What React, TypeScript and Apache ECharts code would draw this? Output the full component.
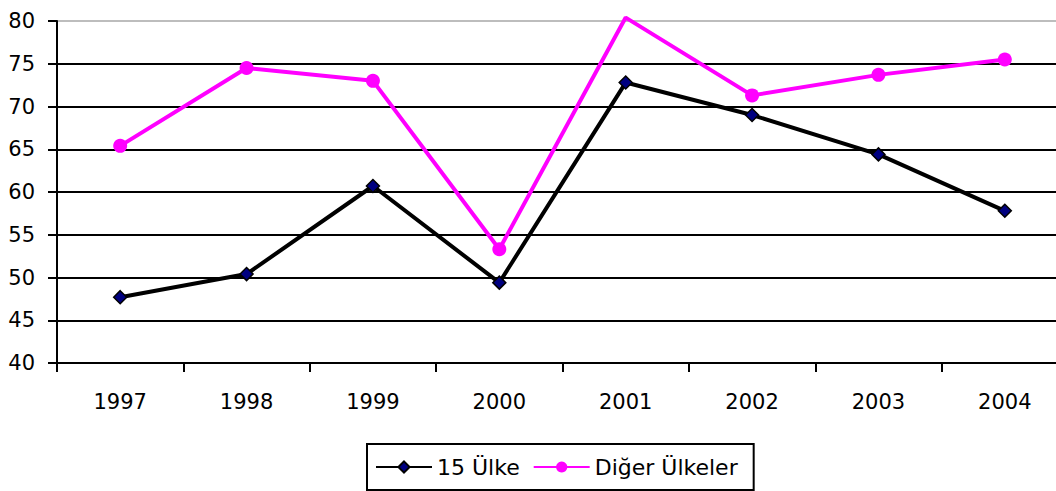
import React, { useEffect, useRef } from "react";
import * as echarts from "echarts";

const years = ["1997", "1998", "1999", "2000", "2001", "2002", "2003", "2004"];
const onbesUlke = [47.7, 50.4, 60.7, 49.4, 72.8, 69.0, 64.4, 57.8];
const digerUlkeler = [65.4, 74.5, 73.0, 53.3, 80.4, 71.3, 73.7, 75.5];
const yTicks = { min: 40, max: 80, interval: 5 };

const FONT = "'DejaVu Sans', sans-serif";

export default function App() {
  const ref = useRef<HTMLDivElement>(null);
  useEffect(() => {
    document.body.style.margin = "0";
    const chart = echarts.init(ref.current!, null, { renderer: "svg" });
    const gridColors = Array.from({ length: 9 }, (_, i) => (i === 8 ? "#bdbdbd" : "#000"));
    chart.setOption({
      animation: false,
      backgroundColor: "#fff",
      textStyle: { fontFamily: FONT },
      grid: { left: 57, top: 21, width: 1011, height: 342, outerBoundsMode: "none", containLabel: false },
      xAxis: {
        type: "category",
        data: years,
        boundaryGap: true,
        axisLine: { lineStyle: { color: "#000", width: 2 } },
        axisTick: { show: true, length: 9, lineStyle: { color: "#000", width: 2 } },
        axisLabel: { color: "#000", fontSize: 21, margin: 28, fontFamily: FONT },
      },
      yAxis: {
        type: "value",
        min: yTicks.min,
        max: yTicks.max,
        interval: yTicks.interval,
        axisLine: { show: true, lineStyle: { color: "#000", width: 2 } },
        axisTick: { show: true, length: 9, lineStyle: { color: "#000", width: 2 } },
        axisLabel: { color: "#000", fontSize: 21, margin: 22, fontFamily: FONT },
        splitLine: { show: true, lineStyle: { color: gridColors, width: 2 } },
      },
      legend: {
        left: 367,
        top: 444,
        padding: [12, 16, 12, 8],
        borderColor: "#000",
        borderWidth: 2,
        itemWidth: 56,
        itemHeight: 14,
        itemGap: 13,
        textStyle: { color: "#000", fontSize: 22, fontFamily: FONT },
        data: [{ name: "15 Ülke" }, { name: "Diğer Ülkeler" }],
      },
      series: [
        {
          name: "15 Ülke",
          type: "line",
          data: onbesUlke,
          symbol: "diamond",
          symbolSize: 13,
          itemStyle: { color: "#000080", borderColor: "#000", borderWidth: 1.5 },
          lineStyle: { color: "#000", width: 4 },
          z: 3,
        },
        {
          name: "Diğer Ülkeler",
          type: "line",
          clip: false,
          data: digerUlkeler.map((v) => (v > yTicks.max ? { value: v, symbol: "none" } : v)),
          symbol: "circle",
          symbolSize: 14,
          itemStyle: { color: "#ff00ff" },
          lineStyle: { color: "#ff00ff", width: 4 },
          z: 2,
        },
      ],
    });
    return () => chart.dispose();
  }, []);
  return <div ref={ref} style={{ width: 1056, height: 491 }} />;
}
